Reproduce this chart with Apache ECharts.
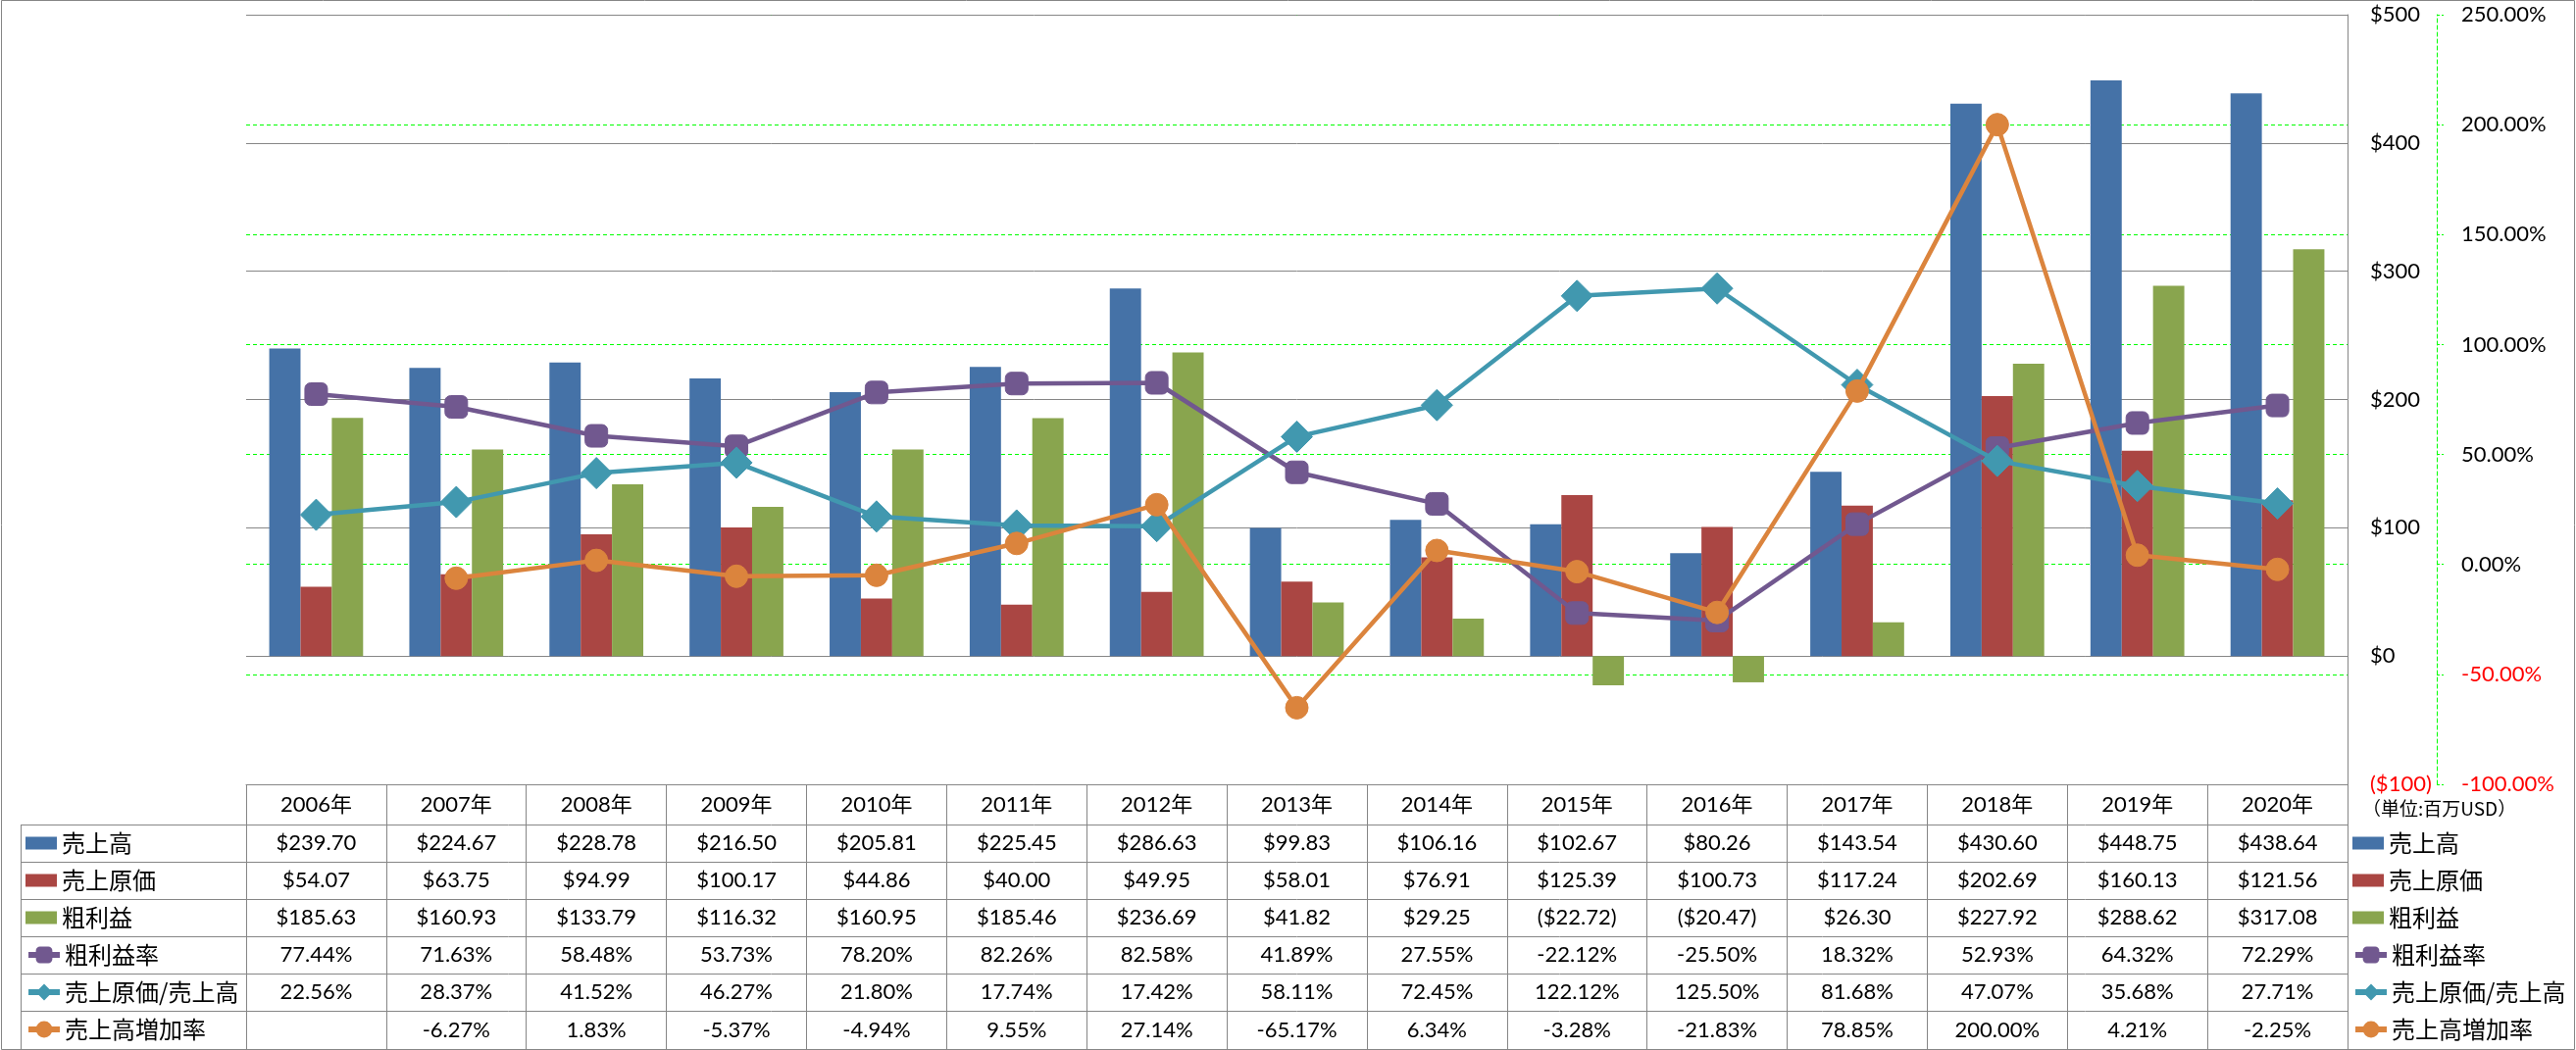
<!DOCTYPE html>
<html>
<head>
<meta charset="utf-8">
<script src="https://cdn.jsdelivr.net/npm/echarts@6/dist/echarts.min.js"></script>
<style>
html,body{margin:0;padding:0;background:#fff;}
#c{width:2627px;height:1071px;}
</style>
</head>
<body>
<div id="c"></div>
<script>
// ---------------- data ----------------
const years = ['2006年','2007年','2008年','2009年','2010年','2011年','2012年','2013年','2014年','2015年','2016年','2017年','2018年','2019年','2020年'];
const sales = [239.70,224.67,228.78,216.50,205.81,225.45,286.63,99.83,106.16,102.67,80.26,143.54,430.60,448.75,438.64];
const costOfSales = [54.07,63.75,94.99,100.17,44.86,40.00,49.95,58.01,76.91,125.39,100.73,117.24,202.69,160.13,121.56];
const grossProfit = [185.63,160.93,133.79,116.32,160.95,185.46,236.69,41.82,29.25,-22.72,-20.47,26.30,227.92,288.62,317.08];
const grossMargin = [77.44,71.63,58.48,53.73,78.20,82.26,82.58,41.89,27.55,-22.12,-25.50,18.32,52.93,64.32,72.29];
const costRatio = [22.56,28.37,41.52,46.27,21.80,17.74,17.42,58.11,72.45,122.12,125.50,81.68,47.07,35.68,27.71];
const salesGrowth = [null,-6.27,1.83,-5.37,-4.94,9.55,27.14,-65.17,6.34,-3.28,-21.83,78.85,200.00,4.21,-2.25];
const seriesNames = ['売上高','売上原価','粗利益','粗利益率','売上原価/売上高','売上高増加率'];
const leftTicks = {min:-100, max:500, interval:100};
const rightTicks = {min:-100, max:250, interval:50};
const unitText = '（単位:百万USD）';

// ---------------- style ----------------
const COLORS = ['#4572A7','#AA4643','#89A54E','#71588F','#4198AF','#DB843D'];
const GRAY = '#868686';
const GREEN = '#00ff00';
const FONT = "Lato, 'Noto Sans CJK JP', sans-serif";
const CJK = "'Noto Sans CJK JP', sans-serif";

const fmtMoney = v => v == null ? '' : (v < 0 ? '($' + (-v).toFixed(2) + ')' : '$' + v.toFixed(2));
const fmtPct = v => v == null ? '' : v.toFixed(2) + '%';

const GRID = {left:251, right:233, top:15, bottom:271};
const plotBottomY = 1071 - GRID.bottom; // 800
const rowTops = [841, 879, 917, 955, 993, 1031];
const tableBottomY = 1070;

const tableRows = [
  years,
  sales.map(fmtMoney),
  costOfSales.map(fmtMoney),
  grossProfit.map(fmtMoney),
  grossMargin.map(fmtPct),
  costRatio.map(fmtPct),
  salesGrowth.map(fmtPct)
];
const rowTopList = [plotBottomY].concat(rowTops);
const rowBottoms = rowTops.concat([tableBottomY]);

const xAxes = tableRows.map((labels, r) => {
  const top = rowTopList[r];
  const h = rowBottoms[r] - top;
  return {
    type:'category', data: years, position:'bottom', offset: top - plotBottomY,
    boundaryGap:true, z: 3,
    axisLine:{show:true, onZero:false, lineStyle:{color:GRAY, width:1}},
    axisTick:{show:true, interval:0, length:h, inside:false, lineStyle:{color:GRAY, width:1}},
    axisLabel:{show:true, interval:0, margin:h/2, verticalAlign:'middle', fontSize:22, fontFamily:FONT, color:'#000',
      formatter:(v, i) => labels[i]},
    splitLine:{show:false}
  };
});
// bottom border of table
xAxes.push({
  type:'category', data: years, position:'bottom', offset: tableBottomY - plotBottomY,
  axisLine:{show:true, onZero:false, lineStyle:{color:GRAY, width:1}},
  axisTick:{show:false}, axisLabel:{show:false}, splitLine:{show:false}
});

const legendText = {fontSize:24, lineHeight:38, fontFamily:CJK, color:'#000'};
function legendPair(left) {
  return [
    {data:seriesNames.slice(0,3), orient:'vertical', left:left, top:rowTops[0], itemWidth:32, itemHeight:13,
     itemGap:0, padding:0, icon:'rect', selectedMode:false, textStyle:legendText},
    {data:seriesNames.slice(3), orient:'vertical', left:left, top:rowTops[3], itemWidth:32, itemHeight:21,
     itemGap:0, padding:0, selectedMode:false, textStyle:legendText, lineStyle:{width:6}}
  ];
}

const lineCommon = (i) => ({
  type:'line', yAxisIndex:1, xAxisIndex:0, z:3 + i,
  lineStyle:{width:4.5, color:COLORS[i]},
  itemStyle:{color:COLORS[i], borderColor:COLORS[i]},
  connectNulls:false
});

const leftCol = [];
for (const y of rowTops.concat([tableBottomY])) {
  leftCol.push({type:'line', shape:{x1:21, y1:y+0.5, x2:GRID.left, y2:y+0.5}, style:{stroke:GRAY, lineWidth:1}});
}
leftCol.push({type:'line', shape:{x1:21.5, y1:rowTops[0], x2:21.5, y2:tableBottomY+0.5}, style:{stroke:GRAY, lineWidth:1}});

const option = {
  animation:false,
  backgroundColor:'#fff',
  grid:{left:GRID.left, right:GRID.right, top:GRID.top, bottom:GRID.bottom, containLabel:false, outerBoundsMode:'none'},
  xAxis: xAxes,
  yAxis: [
    {type:'value', position:'right', min:leftTicks.min, max:leftTicks.max, interval:leftTicks.interval, z:1,
     axisLine:{show:true, lineStyle:{color:GRAY, width:1}},
     axisTick:{show:false},
     axisLabel:{margin:23, fontSize:22, fontFamily:FONT,
       formatter: v => v < 0 ? '($' + (-v) + ')' : '$' + v,
       color: v => Number(v) < 0 ? '#ff0000' : '#000'},
     splitLine:{show:true, lineStyle:{color:GRAY, width:1}}},
    {type:'value', position:'right', offset:91, min:rightTicks.min, max:rightTicks.max, interval:rightTicks.interval, z:0,
     axisLine:{show:true, lineStyle:{color:GREEN, width:1, type:[4,3]}},
     axisTick:{show:true, length:7, inside:false, lineStyle:{color:GREEN, width:1, type:[3,2]}},
     axisLabel:{margin:25, fontSize:22, fontFamily:FONT,
       formatter: v => Number(v).toFixed(2) + '%',
       color: v => Number(v) < 0 ? '#ff0000' : '#000'},
     splitLine:{show:true, lineStyle:{color:GREEN, width:1, type:[4,3]}}}
  ],
  legend: legendPair(26).concat(legendPair(2399)),
  graphic: [
    {type:'rect', shape:{x:1.5, y:0.5, width:2624, height:1070}, style:{fill:null, stroke:GRAY, lineWidth:1}, silent:true},
    {type:'text', left:2409, top:815, style:{text:unitText, fontSize:19, fontFamily:CJK, fill:'#000'}},
  ].concat(leftCol),
  series: [
    {name:seriesNames[0], type:'bar', data:sales, itemStyle:{color:COLORS[0]}, barGap:'0%', barCategoryGap:'33%', z:2},
    {name:seriesNames[1], type:'bar', data:costOfSales, itemStyle:{color:COLORS[1]}, barGap:'0%', barCategoryGap:'33%', z:2},
    {name:seriesNames[2], type:'bar', data:grossProfit, itemStyle:{color:COLORS[2]}, barGap:'0%', barCategoryGap:'33%', z:2},
    Object.assign(lineCommon(3), {name:seriesNames[3], data:grossMargin, symbol:'roundRect', symbolSize:23}),
    Object.assign(lineCommon(4), {name:seriesNames[4], data:costRatio, symbol:'diamond', symbolSize:32}),
    Object.assign(lineCommon(5), {name:seriesNames[5], data:salesGrowth, symbol:'circle', symbolSize:23})
  ]
};

const chart = echarts.init(document.getElementById('c'), null, {renderer:'canvas'});
chart.setOption(option);
</script>
</body>
</html>
